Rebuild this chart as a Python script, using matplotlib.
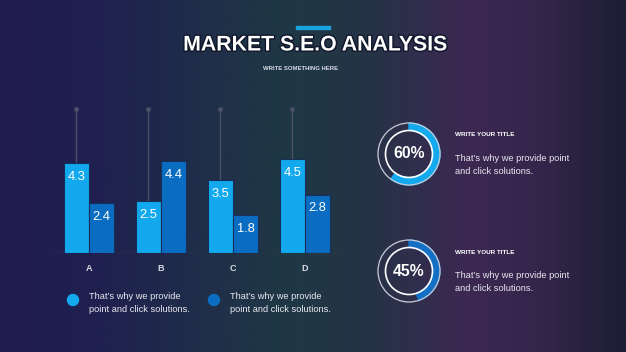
import numpy as np
import matplotlib
matplotlib.use("Agg")
import matplotlib.pyplot as plt
from matplotlib.patches import Wedge, Circle, Rectangle
from matplotlib.colors import LinearSegmentedColormap
import matplotlib.patheffects as pe

plt.rcParams['font.family'] = ['Liberation Sans', 'DejaVu Sans']

# ---- data ----
categories = ["A", "B", "C", "D"]
series1 = [4.3, 2.5, 3.5, 4.5]
series2 = [2.4, 4.4, 1.8, 2.8]
legend_texts = ["That\u2019s why we provide\npoint and click solutions.",
                "That\u2019s why we provide\npoint and click solutions."]
donut_values = [60, 45]
donut_titles = ["WRITE YOUR TITLE", "WRITE YOUR TITLE"]
donut_texts = ["That\u2019s why we provide point\nand click solutions.",
               "That\u2019s why we provide point\nand click solutions."]
title = "MARKET S.E.O ANALYSIS"
subtitle = "WRITE SOMETHING HERE"

W, H = 626, 352
fig = plt.figure(figsize=(W / 100, H / 100), dpi=100)

# background overlay axes in pixel coords (y up)
bg = fig.add_axes([0, 0, 1, 1])
bg.set_xlim(0, W)
bg.set_ylim(0, H)
bg.axis('off')
cmap = LinearSegmentedColormap.from_list('bg', [
    (0.0, '#221c50'), (0.15, '#1f2050'), (0.45, '#1f3845'),
    (0.58, '#243446'), (0.75, '#3d2852'), (0.87, '#33254a'), (1.0, '#1c1e34')])
grad = np.linspace(0, 1, 512).reshape(1, -1)
bg.imshow(grad, cmap=cmap, aspect='auto', extent=[0, W, 0, H], zorder=0)

def Y(y):
    return H - y

# title
bg.add_patch(Rectangle((296, Y(28.5)), 34, 2.8, color='#1ba3e0', zorder=2))
bg.text(315, Y(45), title, ha='center', va='center', fontsize=15.3,
        fontweight='bold', color='white', zorder=3,
        path_effects=[pe.withStroke(linewidth=2, foreground='#10162a')])
bg.text(301, Y(68.5), subtitle, ha='center', va='center', fontsize=4.3,
        fontweight='bold', color='#d8dce6', zorder=3)

c1, c2 = '#12a9ef', '#0a6dc2'

# legend
for (lx, tx), col, txt in zip([(73, 89), (214, 230)], [c1, c2], legend_texts):
    bg.add_patch(Circle((lx, Y(300)), 5.5, color=col, zorder=3))
    bg.text(tx, Y(303), txt, ha='left', va='center', fontsize=6.7,
            color='#e8e8f0', linespacing=1.65, zorder=3)

# donuts
for (cy, val, col, t1, t2) in zip([154, 271], donut_values, [c1, '#1470c4'],
                                  donut_titles, donut_texts):
    cx = 409
    bg.add_patch(Wedge((cx, Y(cy)), 31, 90 - 3.6 * val, 90, width=7.5,
                       color=col, zorder=3))
    bg.add_patch(Circle((cx, Y(cy)), 31, fill=False, ec='#c9ccd8', lw=0.9, zorder=4))
    bg.add_patch(Circle((cx, Y(cy)), 23.5, fill=False, ec='white', lw=1.2, zorder=4))
    bg.text(cx, Y(cy), f"{val}%", ha='center', va='center', fontsize=11.3,
            fontweight='bold', color='white', zorder=5)
    bg.text(455, Y(cy - 19), t1, ha='left', va='center', fontsize=4.6,
            fontweight='bold', color='white', zorder=5)
    bg.text(455, Y(cy + 11), t2, ha='left', va='center', fontsize=6.7,
            color='#e8e8f0', linespacing=1.67, zorder=5)

# bar chart axes
ax = fig.add_axes([53 / W, (H - 253) / H, 288 / W, 146 / H])
ax.patch.set_alpha(0)
x = np.arange(len(categories))
bw = 0.35
ax.set_xlim(-0.5, 3.5)
ax.set_ylim(0, 7)
for i in x:
    ax.plot([i - bw / 2, i - bw / 2], [series1[i], 6.9], color='#4a5068', lw=1, zorder=1)
    ax.plot([i - bw / 2], [6.9], 'o', ms=2.5, color='#4a5068', zorder=1)
b1 = ax.bar(x - bw / 2, series1, bw, color=c1, edgecolor='#16305a', lw=0.8, zorder=2)
b2 = ax.bar(x + bw / 2, series2, bw, color=c2, edgecolor='#16305a', lw=0.8, zorder=2)
for bars, vals in [(b1, series1), (b2, series2)]:
    for b, v in zip(bars, vals):
        ax.annotate(f"{v}", (b.get_x() + b.get_width() / 2, v), xytext=(0, -10),
                    textcoords='offset points', ha='center', va='center',
                    fontsize=9.3, color='white', zorder=3)
ax.axhline(0, color='#3a4358', lw=1, zorder=1)
for s in ax.spines.values():
    s.set_visible(False)
ax.set_yticks([])
ax.set_xticks(x)
ax.set_xticklabels(categories, fontsize=6.5, color='#d8dce4', fontweight='bold')
ax.tick_params(axis='x', length=0, pad=8)

fig.savefig('out.png', dpi=100)
